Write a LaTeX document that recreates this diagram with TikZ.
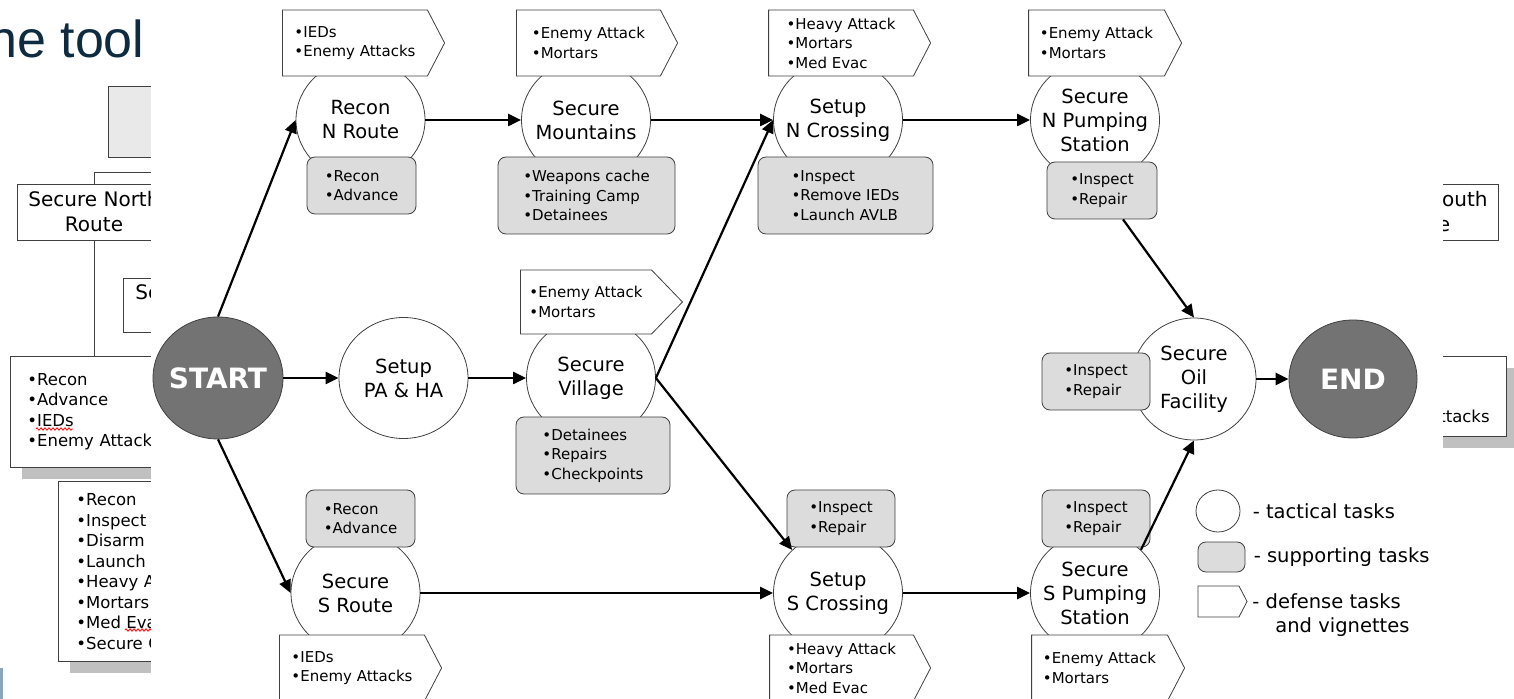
\documentclass[tikz,border=0pt]{standalone}
\usepackage{fontspec}
\setmainfont{DejaVu Sans}
\newfontfamily\titlefont{Liberation Sans}
\usetikzlibrary{shapes,arrows.meta,shadows,positioning,decorations.pathmorphing}

\definecolor{slidenavy}{HTML}{0E2B40}
\definecolor{edgegray}{HTML}{404040}
\definecolor{taskgray}{HTML}{DCDCDC}
\definecolor{endgray}{HTML}{737373}
\definecolor{shadowgray}{HTML}{C0C0C0}
\definecolor{slidefill}{HTML}{E9E9E9}
\definecolor{slidebar}{HTML}{8CA5B8}

\tikzset{
  task/.style={ellipse, draw=edgegray, fill=white, minimum width=64.5pt,
    minimum height=60.5pt, inner sep=-5pt, align=center,
    font=\fontsize{9.75}{12}\selectfont},
  ends/.style={task, fill=endgray, text=white,
    font=\fontsize{14}{16}\selectfont\bfseries},
  support/.style={rectangle, rounded corners=4pt, draw=edgegray, fill=taskgray,
    align=left, inner sep=0pt, font=\fontsize{7.5}{9.75}\selectfont},
  defense/.style={signal, signal to=east, signal pointer angle=125,
    draw=edgegray, fill=white, align=left, inner sep=0pt,
    font=\fontsize{7.5}{9.75}\selectfont},
  flow/.style={-{Triangle[length=6.5pt,width=6pt]}, line width=1.1pt},
  legend/.style={inner sep=0pt, align=left, font=\fontsize{9.75}{12}\selectfont},
  slidebox/.style={rectangle, draw=edgegray, fill=white, inner sep=0pt,
    align=center, font=\fontsize{10}{12.5}\selectfont},
  slidelist/.style={slidebox, align=left, font=\fontsize{8.25}{10.25}\selectfont,
    drop shadow={shadow xshift=6pt, shadow yshift=-6pt, fill=shadowgray, opacity=1}},
  spelling/.style={red, line width=0.4pt, decorate,
    decoration={zigzag, segment length=2pt, amplitude=0.6pt}},
}

\begin{document}
\begin{tikzpicture}[x=0.5pt,y=-0.5pt]
\useasboundingbox (0,0) rectangle (1514,699);
\clip (0,0) rectangle (1514,699);
\fill[white] (0,0) rectangle (1514,699);

% slide behind the chart
\node (title) at (-12,58) [anchor=base west, inner sep=0pt, text=slidenavy,
  font=\titlefont\fontsize{26}{30}\selectfont] {he tool};
\node (topbox) at (108,86) [anchor=north west, draw=edgegray, fill=slidefill,
  minimum width=60pt, minimum height=35.5pt] {};
\coordinate (hub) at (200,172);
\node (northbox) at (94,212) [slidebox, minimum width=77pt, minimum height=28pt]
  {Secure North\\Route};
\node (subbox) at (123,278) [slidebox, anchor=north west, minimum width=40pt,
  minimum height=27pt] {};
\node at (135,300) [anchor=base west, inner sep=0pt, font=\fontsize{10}{12}\selectfont] {Setup};
\node (reconlist) at (10,356) [slidelist, anchor=north west, text width=75pt,
  inner xsep=8.5pt, minimum height=55.5pt]
  {•Recon\\•Advance\\•IEDs\\•Enemy Attack};
\node (tasklist) at (58,481) [slidelist, anchor=north west, text width=75pt,
  inner xsep=9pt, minimum height=90pt]
  {•Recon\\•Inspect\\•Disarm IEDs\\•Launch AVLB\\•Heavy Attack\\•Mortars\\•Med Evac\\•Secure Oil};
\draw[edgegray] (northbox.north) |- (hub);
\draw[edgegray] (northbox.south) -- (northbox.south |- reconlist.north);
\draw[spelling] (36,429) -- (73,429);
\draw[spelling] (125,630) -- (151,630);
\fill[slidebar] (0,668) rectangle (3,699);

\node (southbox) at (1421,212) [slidebox, minimum width=77pt, minimum height=28pt]
  {Secure South\\Route};
\node (attacklist) at (1507,356) [slidelist, anchor=north east, minimum width=90pt,
  minimum height=40pt] {};
\node at (1490,423) [anchor=base east, inner sep=0pt,
  font=\fontsize{8.25}{10}\selectfont] {•Enemy Attacks};

% chart panel
\fill[white] (151,0) rectangle (1443,699);

% tactical tasks
\node (start) at (218,378) [ends, minimum width=65pt, minimum height=61pt] {START};
\node (recon) at (360.5,120) [task] {Recon\\N Route};
\node (mount) at (586,120) [task] {Secure\\Mountains};
\node (ncross) at (838,120) [task] {Setup\\N Crossing};
\node (npump) at (1095,120) [task] {Secure\\N Pumping\\Station};
\node (pa) at (403.5,378) [task] {Setup\\PA \& HA};
\node (village) at (591,378) [task] {Secure\\Village};
\node (oil) at (1194,379) [task, minimum width=62pt, minimum height=61pt] {Secure\\Oil\\Facility};
\node (end) at (1353,379) [ends, minimum width=64pt, minimum height=59pt] {END};
\node (sroute) at (355.5,593) [task] {Secure\\S Route};
\node (scross) at (838,593) [task] {Setup\\S Crossing};
\node (spump) at (1095,593) [task] {Secure\\S Pumping\\Station};

% supporting tasks
\node (snrecon) at (361.5,185.5) [support, minimum width=54.5pt, minimum height=28.5pt] {•Recon\\•Advance};
\node (snmount) at (586.5,195.5) [support, minimum width=88.5pt, minimum height=38.5pt] {•Weapons cache\\•Training Camp\\•Detainees};
\node (sncross) at (845.5,195.5) [support, minimum width=87.5pt, minimum height=38.5pt] {•Inspect\\•Remove IEDs\\•Launch AVLB};
\node (snpump) at (1102,190.5) [support, minimum width=55pt, minimum height=28.5pt] {•Inspect\\•Repair};
\node (svillage) at (593,455.5) [support, minimum width=77pt, minimum height=38.5pt] {•Detainees\\•Repairs\\•Checkpoints};
\node (soil) at (1096,381.5) [support, minimum width=54pt, minimum height=28.5pt] {•Inspect\\•Repair};
\node (ssroute) at (360.5,518.5) [support, minimum width=54.5pt, minimum height=28.5pt] {•Recon\\•Advance};
\node (sscross) at (841,518.5) [support, minimum width=54pt, minimum height=28.5pt] {•Inspect\\•Repair};
\node (sspump) at (1096,518.5) [support, minimum width=54pt, minimum height=28.5pt] {•Inspect\\•Repair};

% defense tasks and vignettes
\node (dnrecon) at (355,43) [defense, minimum width=81pt, minimum height=33pt] {•IEDs\\•Enemy Attacks};
\node (dnmount) at (588.5,43) [defense, minimum width=80.5pt, minimum height=33pt] {•Enemy Attack\\•Mortars};
\node (dncross) at (841,43) [defense, minimum width=81pt, minimum height=33pt] {•Heavy Attack\\•Mortars\\•Med Evac};
\node (dnpump) at (1096.5,43) [defense, minimum width=76.5pt, minimum height=33pt] {•Enemy Attack\\•Mortars};
\node (dvillage) at (586,302) [defense, signal pointer angle=92, minimum width=81pt, minimum height=32pt] {•Enemy Attack\\•Mortars};
\node (dsroute) at (352,668) [defense, minimum width=81pt, minimum height=33pt] {•IEDs\\•Enemy Attacks};
\node (dscross) at (841.5,668) [defense, minimum width=80.5pt, minimum height=33pt] {•Heavy Attack\\•Mortars\\•Med Evac};
\node (dspump) at (1099.5,668) [defense, minimum width=76.5pt, minimum height=33pt] {•Enemy Attack\\•Mortars};

% flow of the operation
\draw[flow] (start.north) -- (recon.west);
\draw[flow] (start.east) -- (pa.west);
\draw[flow] (start.south) -- (sroute.west);
\draw[flow] (recon.east) -- (mount.west);
\draw[flow] (mount.east) -- (ncross.west);
\draw[flow] (ncross.east) -- (npump.west);
\draw[flow] (pa.east) -- (village.west);
\draw[flow] (village.east) -- (ncross.west);
\draw[flow] (village.east) -- (scross.north west);
\draw[flow] (sroute.east) -- (scross.west);
\draw[flow] (scross.east) -- (spump.west);
\draw[flow] (snpump.-54) -- (oil.north);
\draw[flow] (spump.north east) -- (oil.south);
\draw[flow] (oil.east) -- (end.west);

% legend
\node (lgtask) at (1218,511) [task, minimum width=22pt, minimum height=21pt] {};
\node (lgsupport) at (1221.5,557) [support, minimum width=23.5pt, minimum height=15pt] {};
\node (lgdefense) at (1218.5,601.5) [defense, minimum width=24.5pt, minimum height=15.5pt] {};
\node (lgtasktext) [legend, right=6pt of lgtask] {- tactical tasks};
\node (lgsupporttext) [legend, right=4pt of lgsupport] {- supporting tasks};
\node (lgdefensetext) at (1252,593) [legend, anchor=north west]
  {- defense tasks\\\hspace*{11.5pt}and vignettes};

\end{tikzpicture}
\end{document}
